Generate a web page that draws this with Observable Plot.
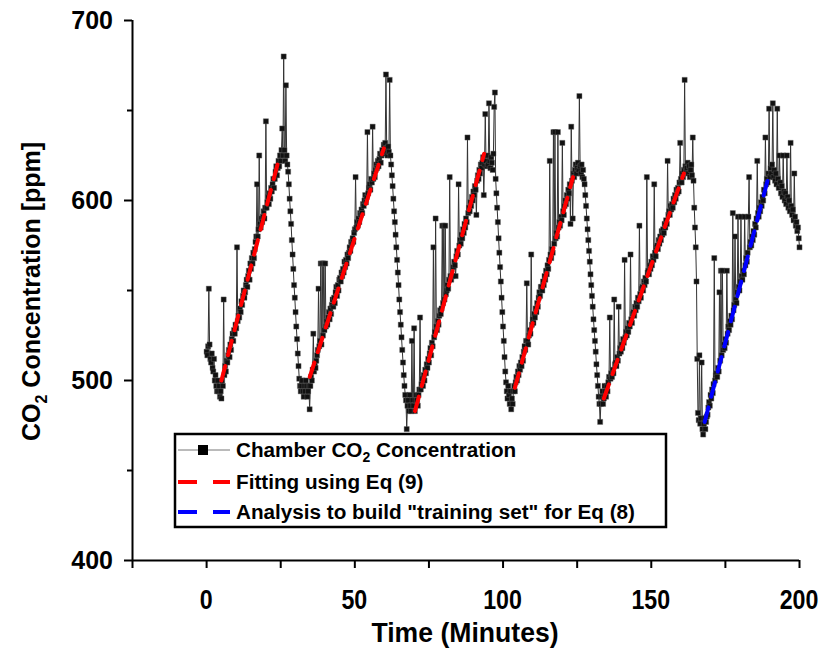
<!DOCTYPE html>
<html><head><meta charset="utf-8">
<script src="https://cdn.jsdelivr.net/npm/d3@7"></script>
<script src="https://cdn.jsdelivr.net/npm/@observablehq/plot@0.6"></script>
<style>
body{margin:0;background:#fff;}
#chart svg{display:block;}
</style></head><body><div id="chart"></div>
<script>
// Chamber CO2 concentration (ppm), one reading every 0.25 minute from t = 0 to t = 200
const sampleStepMin = 0.25;
const co2 = [
516,514,519,551, 520,512,510,515, 507,505,512,500, 503,497,494,500, 494,497,491,494,
490,500,497,545, 503,508,505,511, 510,514,517,513, 520,517,523,526, 522,528,526,531,
529,574,533,536, 535,540,538,544, 542,547,550,546, 549,553,556,552, 558,561,556,565,
562,568,565,571, 568,573,577,580, 609,580,584,625, 587,585,590,588, 591,594,590,596,
644,596,599,602, 598,604,601,607, 605,609,612,607, 612,616,619,614, 618,622,619,625,
622,628,640,625, 680,628,622,664, 625,620,616,609, 601,594,587,578, 570,562,553,546,
538,530,523,515, 508,501,497,494, 497,500,494,491, 497,494,500,497, 491,494,497,484,
497,502,500,506, 526,505,509,507, 511,514,517,551, 519,522,565,520, 565,525,565,528,
565,530,533,531, 535,538,534,540, 537,542,545,541, 546,543,549,552, 547,553,550,556,
557,555,560,558, 562,560,566,563, 567,565,570,568, 571,574,572,577, 576,579,577,582,
584,613,585,588, 586,590,588,593, 592,595,593,598, 597,600,603,599, 602,638,604,607,
609,606,612,610, 641,612,615,613, 617,620,618,622, 619,623,626,621, 625,628,626,631,
627,632,670,629, 625,630,627,667, 625,620,614,608, 601,594,588,581, 574,567,560,553,
545,538,531,524, 517,510,503,497, 492,489,473,486, 489,483,492,486, 483,522,489,486,
529,483,489,492, 489,486,492,495, 535,495,498,501, 497,503,500,506, 504,509,507,512,
510,515,518,514, 521,519,574,524, 527,590,530,528, 533,531,536,539, 537,540,586,543,
586,545,586,548, 550,553,551,556, 613,558,556,558, 558,563,566,564, 558,569,572,570,
609,575,578,576, 581,579,584,582, 587,585,590,588, 635,593,596,594, 599,597,602,600,
605,603,608,606, 592,611,614,612, 617,615,620,618, 621,624,603,620, 648,622,619,625,
620,654,622,618, 624,621,617,626, 652,660,612,604, 596,588,579,571, 563,555,546,538,
530,522,513,505, 499,494,490,497, 492,487,494,484, 490,487,494,497, 494,499,502,500,
505,503,508,506, 510,508,513,511, 516,519,517,522, 554,522,520,525, 528,526,570,531,
534,532,537,535, 540,538,543,541, 546,549,547,552, 552,550,555,553, 558,556,561,559,
564,562,567,622, 570,568,573,571, 638,576,638,579, 582,580,638,585, 588,586,591,589,
632,594,592,597, 600,598,603,601, 606,604,609,587, 641,611,590,615, 613,617,620,615,
618,621,617,658, 619,615,620,613, 617,612,609,603, 597,590,584,578, 572,566,559,553,
547,541,534,528, 522,516,509,503, 497,491,487,477, 487,491,494,487, 490,497,494,491,
497,494,499,502, 535,501,504,502, 506,504,545,509, 510,508,513,511, 541,515,518,516,
520,518,523,521, 567,524,527,525, 529,527,532,530, 570,534,532,537, 538,536,541,539,
543,541,546,544, 586,548,546,551, 552,550,555,553, 557,555,613,560, 561,559,564,562,
566,564,569,567, 609,571,569,574, 575,573,578,576, 580,578,583,581, 584,582,587,585,
589,587,622,592, 594,592,597,595, 598,596,601,599, 603,601,606,604, 607,605,610,632,
612,610,615,613, 617,667,619,616, 618,621,615,619, 613,617,620,614, 635,611,596,585,
574,555,512,482, 478,514,476,479, 510,473,470,476, 479,473,477,480, 481,485,488,486,
492,490,495,493, 498,568,500,503, 504,502,507,505, 549,511,561,514, 561,517,520,518,
523,521,561,526, 530,528,533,531, 536,534,593,539, 542,580,545,543, 549,591,552,550,
555,591,558,556, 561,559,591,564, 568,566,571,591, 613,574,577,575, 580,578,583,581,
587,585,590,622, 593,591,596,594, 599,597,602,600, 606,604,635,609, 612,610,615,651,
613,618,615,620, 654,613,617,611, 615,609,651,612, 607,625,610,604, 608,602,625,605,
600,604,598,625, 602,596,600,594, 632,597,592,595, 589,615,591,586, 588,583,585,579,
574
];

// Eq (9) fitted segments (start/end time in minutes and ppm)
const fitStartT = [5, 34.8, 70.3, 104, 134];
const fitStartV = [500, 502, 483, 496, 490];
const fitEndT   = [24.7, 59.8, 93.6, 123.6, 161];
const fitEndV   = [625, 629, 626, 613, 615];
// Eq (8) training-set analysis segment
const trainStartT = [168];
const trainStartV = [477];
const trainEndT   = [190];
const trainEndV   = [616];

const xMajorTicks = [0, 50, 100, 150, 200];
const xMinorTicks = [-25, 25, 75, 125, 175];
const yMajorTicks = [400, 500, 600, 700];
const yMinorTicks = [450, 550, 650];

const xTitle = "Time (Minutes)";
const yTitleParts = ["CO", "2", " Concentration [ppm]"];
const legendLabels = [["Chamber CO", "2", " Concentration"], ["Fitting using Eq (9)"], ["Analysis to build \"training set\" for Eq (8)"]];

const series = co2.map((v, i) => ({t: i * sampleStepMin, v}));
const segs = (t0, v0, t1, v1) => t0.flatMap((t, i) => [{id: i, t, v: v0[i]}, {id: i, t: t1[i], v: v1[i]}]);
const fitData = segs(fitStartT, fitStartV, fitEndT, fitEndV);
const trainData = segs(trainStartT, trainStartV, trainEndT, trainEndV);

const bold = "'Liberation Sans', Arial, sans-serif";

const plot = Plot.plot({
  width: 820, height: 648,
  marginLeft: 132, marginRight: 21, marginTop: 20, marginBottom: 88,
  x: {domain: [-25, 200], label: null},
  y: {domain: [400, 700], label: null},
  style: {background: "white", overflow: "visible"},
  marks: [
    Plot.line(series, {x: "t", y: "v", stroke: "#333", strokeWidth: 1}),
    Plot.dot(series, {x: "t", y: "v", symbol: "square", r: 2.9, fill: "#111", stroke: "#666", strokeWidth: 0.4}),
    Plot.line(fitData, {x: "t", y: "v", z: "id", stroke: "#ff0000", strokeWidth: 4, strokeDasharray: "15,11"}),
    Plot.line(trainData, {x: "t", y: "v", z: "id", stroke: "#0000ff", strokeWidth: 4, strokeDasharray: "15,11"}),
    Plot.axisY({ticks: yMajorTicks, tickSize: 8, tickFormat: () => "", label: null, strokeWidth: 2}),
    Plot.axisY({ticks: yMinorTicks, tickSize: 5, tickFormat: () => "", label: null, strokeWidth: 2}),
    Plot.axisX({ticks: xMajorTicks, tickSize: 8, tickFormat: () => "", label: null, strokeWidth: 2}),
    Plot.axisX({ticks: xMinorTicks, tickSize: 8, tickFormat: () => "", label: null, strokeWidth: 2}),
    Plot.ruleX([-25], {stroke: "#000", strokeWidth: 2}),
    Plot.ruleY([400], {stroke: "#000", strokeWidth: 2})
  ]
});
document.getElementById("chart").append(plot);

const xs = plot.scale("x"), ys = plot.scale("y");
const svg = d3.select(plot);
const g = svg.append("g").attr("text-anchor", "start").attr("fill", "#000");

// tick labels (positions through Plot's scales)
yMajorTicks.forEach(v => {
  g.append("text").attr("x", 113).attr("y", ys.apply(v)).attr("dy", "0.36em").attr("text-anchor", "end")
    .style("font", `bold 25px ${bold}`).text(v);
});
xMajorTicks.forEach(v => {
  g.append("text").attr("transform", `translate(${xs.apply(v)},${609}) scale(0.86,1)`).attr("text-anchor", "middle")
    .style("font", `bold 27px ${bold}`).text(v);
});

// axis titles
g.append("text").attr("transform", "translate(465,642) scale(0.95,1)").attr("text-anchor", "middle")
  .style("font", `bold 28px ${bold}`).text(xTitle);
const yt = g.append("text").attr("transform", "translate(40,441) rotate(-90)").attr("text-anchor", "start")
  .style("font", `bold 25px ${bold}`);
yt.append("tspan").text(yTitleParts[0]);
yt.append("tspan").style("font-size", "16px").attr("dy", 7).text(yTitleParts[1]);
yt.append("tspan").attr("dy", -7).text(yTitleParts[2]);

// legend
const lg = g.append("g");
lg.append("rect").attr("x", 175).attr("y", 434).attr("width", 491).attr("height", 93)
  .attr("fill", "#fff").attr("stroke", "#000").attr("stroke-width", 2.5);
const rowY = [450, 482, 512];
lg.append("line").attr("x1", 178).attr("x2", 230).attr("y1", rowY[0]).attr("y2", rowY[0]).attr("stroke", "#777").attr("stroke-width", 1);
lg.append("rect").attr("x", 198).attr("y", rowY[0] - 5).attr("width", 10).attr("height", 10).attr("fill", "#000");
[["#ff0000", rowY[1]], ["#0000ff", rowY[2]]].forEach(([c, y]) => {
  lg.append("line").attr("x1", 178).attr("x2", 230).attr("y1", y).attr("y2", y)
    .attr("stroke", c).attr("stroke-width", 4).attr("stroke-dasharray", "19,16");
});
legendLabels.forEach((parts, i) => {
  const t = lg.append("text").attr("x", 236).attr("y", rowY[i] + 7).attr("text-anchor", "start")
    .style("font", `bold 20.7px ${bold}`);
  if (parts.length === 3) {
    t.append("tspan").text(parts[0]);
    t.append("tspan").style("font-size", "14px").attr("dy", 5).text(parts[1]);
    t.append("tspan").attr("dy", -5).text(parts[2]);
  } else t.text(parts[0]);
});
</script>
</body></html>
